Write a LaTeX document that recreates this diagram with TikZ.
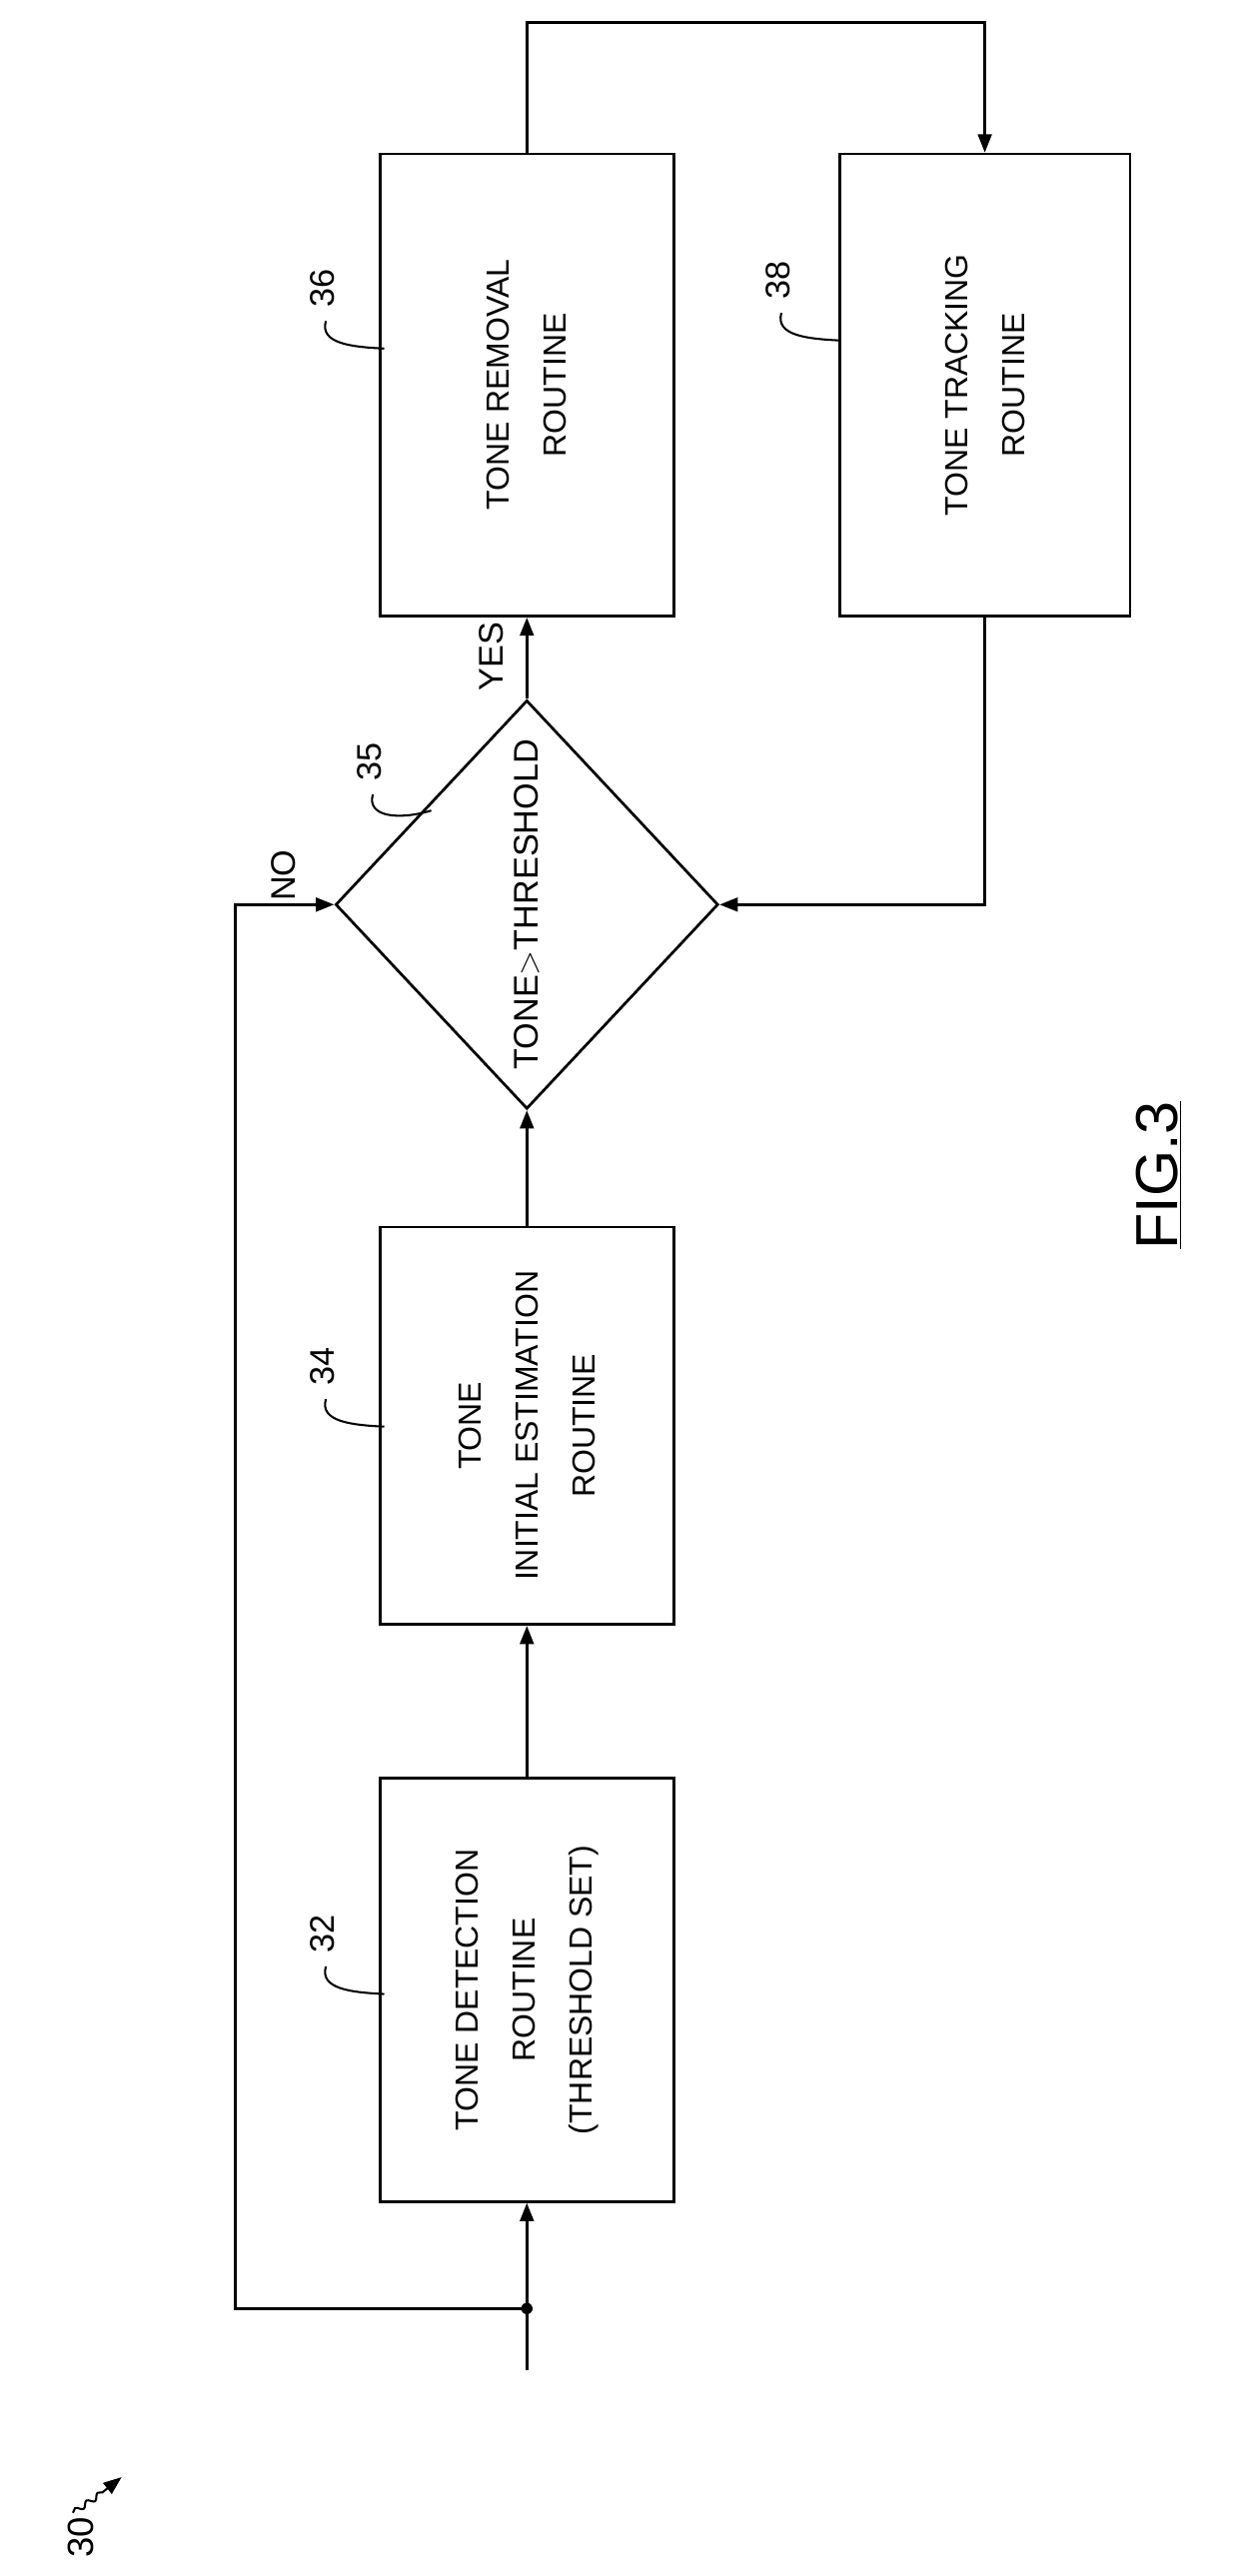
\documentclass[tikz,border=0pt]{standalone}
\usepackage{fontspec}
\setmainfont{Liberation Sans}
\usetikzlibrary{shapes.geometric,arrows.meta,decorations.pathmorphing,calc}

\tikzset{
  box/.style={draw, line width=1.2pt, rotate=90, align=center, inner sep=0pt,
    font=\fontsize{14}{25}\selectfont},
  flow/.style={line width=1.2pt, -{Triangle[length=8pt,width=6pt]}},
  lbl/.style={rotate=90, font=\fontsize{15}{15}\selectfont}
}
% reference numeral with curled leader
\newcommand{\refnum}[3]{%
  \node[lbl] at ($(#1)+(-38,-#3)$) {#2};
  \draw[line width=0.9pt] ($(#1)+(-36,-#3+20)$) .. controls ($(#1)+(-40,-#3+34)$) and ($(#1)+(-20,-#3+36)$) .. (#1);
}

\begin{document}
\begin{tikzpicture}[x=0.025cm, y=-0.025cm]
  \useasboundingbox (0,0) rectangle (768,1589);

  % Boxes
  \node[box, minimum width=6.525cm, minimum height=4.525cm] (detect) at (325,1227.5)
    {TONE DETECTION\\ROUTINE\\(THRESHOLD SET)};
  \node[box, minimum width=6.125cm, minimum height=4.525cm] (estim) at (325,879.5)
    {TONE\\INITIAL ESTIMATION\\ROUTINE};
  \node[box, diamond, minimum width=6.3cm, minimum height=5.9cm,
    font=\fontsize{15}{15}\selectfont] (check) at (325,558)
    {TONE$>$THRESHOLD};
  \node[box, minimum width=7.125cm, minimum height=4.525cm] (removal) at (325,237.5)
    {TONE REMOVAL\\ROUTINE};
  \node[box, minimum width=7.125cm, minimum height=4.475cm] (track) at (607.5,237.5)
    {TONE TRACKING\\ROUTINE};

  % Input and NO loop
  \coordinate (in) at (325,1462);
  \coordinate (split) at (325,1424);
  \draw[flow] (in) -- (detect.west);
  \fill (split) circle (2.5pt);
  \draw[flow] (split) -| (145,558) -- (check.north);
  \node[lbl] at (175,540) {NO};

  % Main flow
  \draw[flow] (detect.east) -- (estim.west);
  \draw[flow] (estim.east) -- (check.west);
  \draw[flow] (check.east) -- (removal.west);
  \node[lbl] at (303,405) {YES};
  \draw[flow] (removal.east) -- (325,14) -| (track.east);
  \draw[flow] (track.west) |- (check.south);

  % Reference numerals
  \refnum{237,1230}{32}{37}
  \refnum{237,880}{34}{37}
  \refnum{266,500}{35}{30}
  \refnum{237,215}{36}{37}
  \refnum{518,210}{38}{37}

  % Figure label
  \node[lbl, font=\fontsize{26}{26}\selectfont] (fig) at (715,725) {\underline{FIG.3}};
  \node[lbl, font=\fontsize{16}{16}\selectfont] (num) at (50,1565) {30};
  \draw[line width=0.9pt, -{Triangle[length=8pt,width=6pt]}, decorate,
    decoration={snake, amplitude=1.2pt, segment length=6pt, post length=8pt}]
    (45,1550) .. controls (60,1540) .. (75,1528);
\end{tikzpicture}
\end{document}
